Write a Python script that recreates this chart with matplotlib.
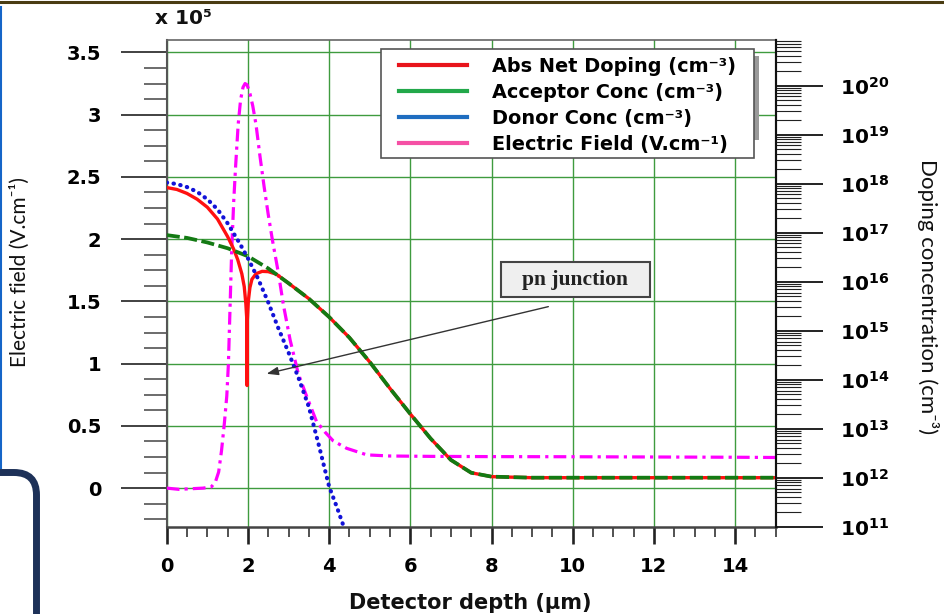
import numpy as np
import matplotlib
matplotlib.use("Agg")
import matplotlib.pyplot as plt
from matplotlib.lines import Line2D
from matplotlib.patches import Rectangle, PathPatch
from matplotlib.path import Path
from matplotlib.transforms import Affine2D
from matplotlib.ticker import MultipleLocator, FuncFormatter, LogLocator, NullFormatter

# ---- electric field profile (x 1e5 V/cm) ----
field_depth = [0.0, 0.3, 0.6, 0.9, 1.1, 1.2, 1.28, 1.35, 1.42, 1.48, 1.52, 1.56,
               1.60, 1.65, 1.70, 1.76, 1.82, 1.88, 1.93, 1.98, 2.05, 2.12, 2.2,
               2.3, 2.4, 2.5, 2.6, 2.75, 2.87, 3.04, 3.24, 3.45, 3.69, 3.9, 4.1,
               4.43, 4.93, 5.5, 6.5, 8.0, 10.0, 12.0, 14.0, 15.0]
field_value = [0.0, -0.01, -0.005, 0.0, 0.01, 0.05, 0.13, 0.30, 0.52, 0.74, 1.0,
               1.45, 1.90, 2.30, 2.60, 2.92, 3.12, 3.22, 3.25, 3.24, 3.17, 3.07,
               2.92, 2.66, 2.42, 2.20, 2.0, 1.73, 1.48, 1.19, 0.92, 0.735, 0.535,
               0.45, 0.38, 0.32, 0.267, 0.258, 0.255, 0.253, 0.252, 0.25, 0.248,
               0.246]

# ---- doping profiles (cm^-3) ----
donor_depth = [0.0, 0.25, 0.5, 0.75, 1.0, 1.25, 1.5, 1.8, 2.0, 2.25, 2.5, 2.75,
               3.0, 3.25, 3.5, 3.75, 4.0, 4.2, 4.34]
donor_conc = [1.05e18, 9.8e17, 8.5e17, 6.8e17, 4.8e17, 3.0e17, 1.55e17, 6.0e16,
              3.0e16, 1.15e16, 3.8e15, 1.12e15, 3.6e14, 1.07e14, 2.8e13, 4.5e12,
              6.6e11, 2.4e11, 1.12e11]

acceptor_depth = [0.0, 0.5, 1.0, 1.5, 2.0, 2.5, 3.0, 3.5, 4.0, 4.5, 5.0, 5.5,
                  6.0, 6.5, 7.0, 7.5, 8.0, 9.0, 10.0, 11.0, 12.0, 13.0, 14.0, 15.0]
acceptor_conc = [8.9e16, 7.8e16, 6.3e16, 4.8e16, 3.3e16, 1.86e16, 9.3e15, 4.5e15,
                 1.9e15, 7.2e14, 2.3e14, 6.6e13, 2.0e13, 6.3e12, 2.3e12, 1.26e12,
                 1.05e12, 1.0e12, 1.0e12, 1.0e12, 1.0e12, 1.0e12, 1.0e12, 1.0e12]

net_depth = [0.0, 0.25, 0.5, 0.75, 1.0, 1.25, 1.5, 1.65, 1.75, 1.85, 1.91, 1.95,
             1.975, 1.98, 1.985, 2.01, 2.05, 2.1, 2.2, 2.35, 2.5, 2.7, 3.0, 3.5,
             4.0, 4.5, 5.0, 5.5, 6.0, 6.5, 7.0, 7.5, 8.0, 9.0, 10.0, 11.0, 12.0,
             13.0, 14.0, 15.0]
net_conc = [8.3e17, 7.6e17, 6.3e17, 4.8e17, 3.3e17, 1.9e17, 8.3e16, 4.6e16,
            2.8e16, 1.45e16, 7.9e15, 3.5e15, 1.6e15, 7.6e13, 1.6e15, 4.0e15,
            7.6e15, 1.12e16, 1.45e16, 1.62e16, 1.6e16, 1.42e16, 9.3e15, 4.5e15,
            1.9e15, 7.2e14, 2.3e14, 6.6e13, 2.0e13, 6.3e12, 2.3e12, 1.26e12,
            1.05e12, 1.0e12, 1.0e12, 1.0e12, 1.0e12, 1.0e12, 1.0e12, 1.0e12]

series_labels = ["Abs Net Doping (cm⁻³)", "Acceptor Conc (cm⁻³)",
                 "Donor Conc (cm⁻³)", "Electric Field (V.cm⁻¹)"]
legend_colors = ["#e8141c", "#22a84a", "#1f6dc0", "#f550a5"]
field_ticks = [0, 0.5, 1, 1.5, 2, 2.5, 3, 3.5]
depth_ticks = [0, 2, 4, 6, 8, 10, 12, 14]

plt.rcParams["font.family"] = ["DejaVu Sans"]
plt.rcParams["font.weight"] = "bold"

W, H = 945, 614
fig = plt.figure(figsize=(W / 100, H / 100), dpi=100)
fig.patch.set_facecolor("white")

L, R, T, B = 166.7, 775.7, 40.0, 526.7
ax = fig.add_axes([L / W, 1 - B / H, (R - L) / W, (B - T) / H])
ax2 = ax.twinx()


def axes_x(px):
    return (px - L) / (R - L)


def axes_y(py):
    return (B - py) / (B - T)


# ---- left axis: electric field ----
ax.set_xlim(0, 15)
ax.set_ylim(-0.31, 3.6)
ax.set_xticks(depth_ticks)
ax.set_yticks(field_ticks)
ax.xaxis.set_minor_locator(MultipleLocator(0.5))
ax.yaxis.set_minor_locator(MultipleLocator(0.125))
ax.yaxis.set_major_formatter(FuncFormatter(lambda v, _: f"{v:g}"))
ax.grid(True, which="major", color="#3f9b3f", lw=1.0)
ax.set_axisbelow(True)

ax.tick_params(axis="y", which="major", direction="out", length=33, width=1.3,
               color="#333333", pad=14, labelsize=14)
ax.tick_params(axis="y", which="minor", direction="out", length=16.5, width=1.1,
               color="#444444")
ax.tick_params(axis="x", which="major", direction="out", length=12, width=1.9,
               color="#222222", pad=10, labelsize=14)
ax.tick_params(axis="x", which="minor", direction="out", length=7, width=1.2,
               color="#333333")
ax.tick_params(which="both", top=False, right=False)

for side, col, lw in [("left", "#555555", 1.5), ("top", "#666666", 1.2),
                      ("bottom", "#444444", 1.8), ("right", "#111111", 1.5)]:
    ax.spines[side].set_color(col)
    ax.spines[side].set_linewidth(lw)

ax.plot(field_depth, field_value, color="#ff00ff", lw=2.3,
        ls=(0, (4, 1.6, 1, 1.6)), zorder=3)

# ---- right axis: doping concentration (log) ----
ax2.set_yscale("log")
ax2.set_ylim(1e11, 10 ** 20.93)
ax2.yaxis.set_major_locator(LogLocator(base=10, numticks=30))
ax2.yaxis.set_minor_locator(LogLocator(base=10, subs=np.arange(2, 10), numticks=30))
ax2.yaxis.set_minor_formatter(NullFormatter())
ax2.yaxis.set_major_formatter(
    FuncFormatter(lambda v, _: r"$\mathbf{10^{%d}}$" % int(round(np.log10(v)))))
ax2.tick_params(axis="y", which="major", direction="out", length=34, width=1.3,
                color="#111111", pad=12, labelsize=14.5)
ax2.tick_params(axis="y", which="minor", direction="out", length=18, width=0.8,
                color="#222222")
for side in ["left", "top", "bottom"]:
    ax2.spines[side].set_visible(False)
ax2.spines["right"].set_color("#111111")
ax2.spines["right"].set_linewidth(1.5)

ax2.plot(net_depth, net_conc, color="#ff1010", lw=2.4, zorder=2)
ax2.plot(acceptor_depth, acceptor_conc, color="#137a13", lw=2.7,
         ls=(0, (3.5, 1.2)), zorder=3)
ax2.plot(donor_depth, donor_conc, color="#1212d8", lw=3.0,
         ls=(0, (0.1, 1.55)), dash_capstyle="round", zorder=4)

# ---- legend (framed box drawn separately) ----
box_x0, box_x1 = axes_x(380.7), axes_x(754.3)
box_y0, box_y1 = axes_y(158.3), axes_y(49.3)
ax2.add_patch(Rectangle((box_x1, axes_y(140)), 0.007, axes_y(56) - axes_y(140),
                        transform=ax2.transAxes, fc="#9a9a9a", ec="none",
                        zorder=8, clip_on=False))
ax2.add_patch(Rectangle((box_x0, box_y0), box_x1 - box_x0, box_y1 - box_y0,
                        transform=ax2.transAxes, fc="white", ec="#555555",
                        lw=1.2, zorder=9))
handles = [Line2D([], [], color=c, lw=3) for c in legend_colors]
leg = ax2.legend(handles, series_labels, loc="upper left",
                 bbox_to_anchor=(axes_x(399), axes_y(56.5)),
                 bbox_transform=ax2.transAxes, borderaxespad=0, borderpad=0,
                 frameon=False,
                 prop=dict(family="DejaVu Sans", weight="bold", size=13.9),
                 handlelength=3.5, handletextpad=1.3, labelspacing=0.37)
leg.set_zorder(10)

# ---- pn junction annotation ----
ax2.annotate("", xy=(2.46, 10 ** 14.12), xytext=(9.40, 10 ** 15.49),
             arrowprops=dict(arrowstyle="-|>,head_length=0.7,head_width=0.25",
                             color="#333333", lw=1.0, shrinkA=0, shrinkB=0),
             zorder=6)
ax2.add_patch(Rectangle((axes_x(500.7), axes_y(296.7)),
                        axes_x(650) - axes_x(500.7), axes_y(262.3) - axes_y(296.7),
                        transform=ax2.transAxes, fc="#efefef", ec="#444444",
                        lw=1.5, zorder=7))
ax2.text(axes_x(575.5), axes_y(280), "pn junction", transform=ax2.transAxes,
         ha="center", va="center", family="Liberation Serif", weight="bold",
         size=15.5, color="#222222", zorder=8)

# ---- axis titles ----
fig.text(20 / W, 1 - 272 / H, "Electric field (V.cm⁻¹)", rotation=90,
         ha="center", va="center", family=["Lato", "DejaVu Sans"],
         weight="normal", size=15, color="#111111")
fig.text(928 / W, 1 - 297 / H, "Doping concentration (cm⁻³)", rotation=270,
         ha="center", va="center", family=["Lato", "DejaVu Sans"],
         weight="normal", size=16, color="#111111")
fig.text(470 / W, 1 - 603 / H, "Detector depth (μm)", ha="center", va="center",
         weight="bold", size=15, color="#111111")
fig.text(183 / W, 1 - 19 / H, "x 10⁵", ha="center", va="center",
         weight="bold", size=14.5, color="#111111")

# ---- slide frame decorations ----
px = Affine2D().scale(1 / W, 1 / H) + fig.transFigure
fig.add_artist(Line2D([0, W], [H - 1.5, H - 1.5], transform=px,
                      color="#4a3c12", lw=2.2))
fig.add_artist(Line2D([0.9, 0.9], [H - 7, H - 468], transform=px,
                      color="#1565c8", lw=1.5))
corner = Path([(0, H - 472.5), (14, H - 472.5), (36.5, H - 472.5),
               (36.5, H - 495), (36.5, -10)],
              [Path.MOVETO, Path.LINETO, Path.CURVE3, Path.CURVE3, Path.LINETO])
fig.add_artist(PathPatch(corner, transform=px, fc="none", ec="#1d3158", lw=5))

fig.savefig("out.png", dpi=100, facecolor="white")
